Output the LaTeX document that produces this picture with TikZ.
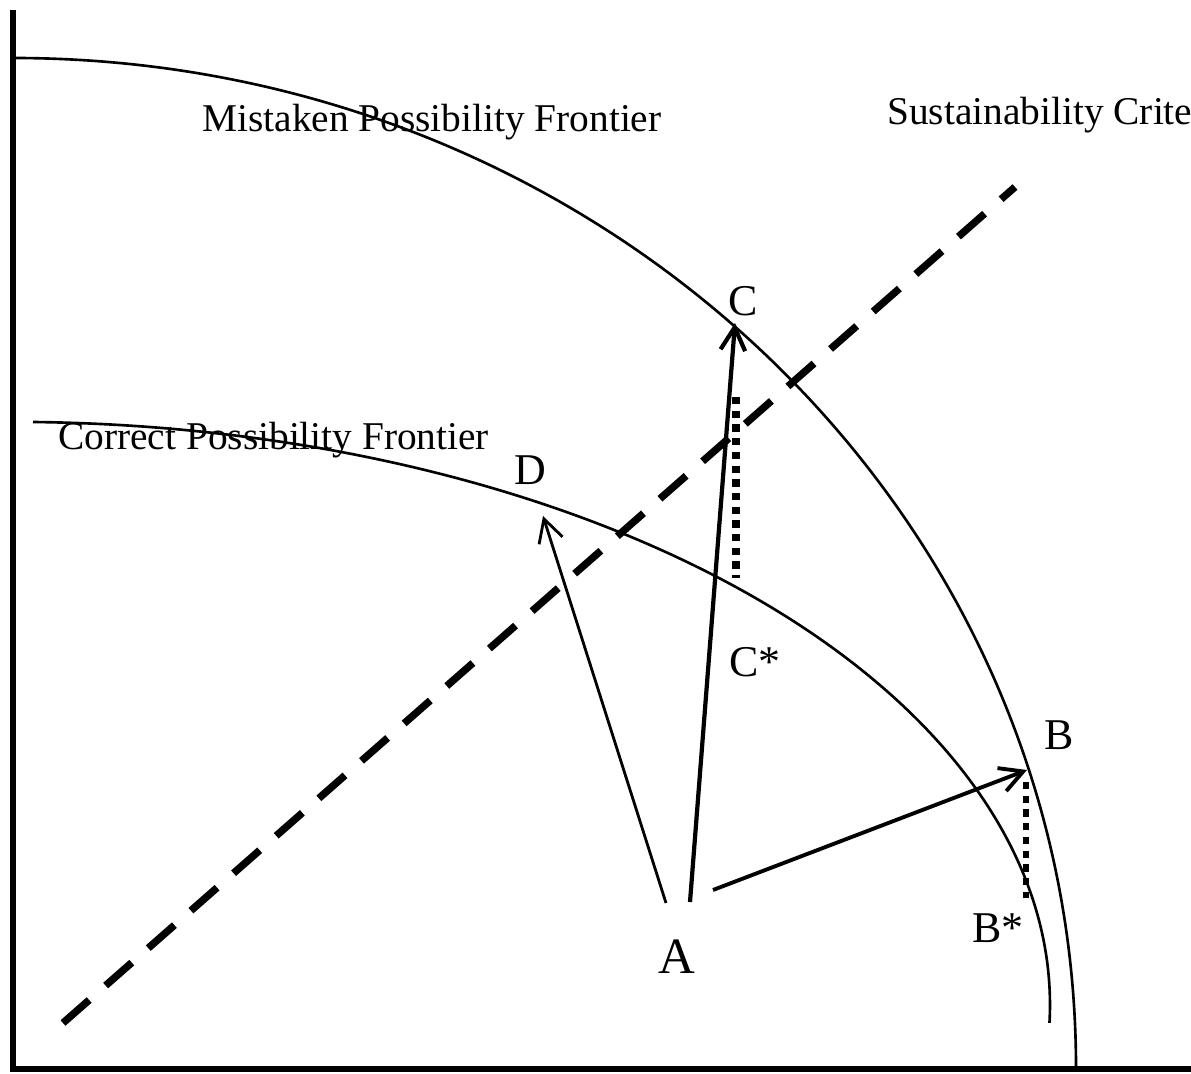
\documentclass[tikz,border=0pt]{standalone}
\usepackage{fontspec}
\setmainfont{Liberation Serif}
\usetikzlibrary{arrows.meta}
\begin{document}
\begin{tikzpicture}[x=0.02cm,y=0.02cm,
  axisline/.style={line width=3.4pt},
  frontier/.style={line width=1.5pt},
  critline/.style={line width=4.2pt, dash pattern=on 19.8pt off 12.5pt},
  dotline/.style={line width=4pt, dash pattern=on 4.2pt off 3.6pt},
  vec/.style={-{Straight Barb[length=13pt,width=14pt]}},
  ftext/.style={inner sep=0pt, font=\fontsize{22.4}{26}\selectfont},
  ptlabel/.style={inner sep=0pt, font=\fontsize{25}{30}\selectfont}]
\useasboundingbox (0,0) rectangle (1191,1073);
\fill[white] (0,0) rectangle (1191,1073);
% axes
\coordinate (O) at (13,4);
\coordinate (Ytop) at (13,1063);
\coordinate (Xend) at (1191,4);
\draw[axisline] (Ytop) -- (O) -- (Xend);
% frontiers
\draw[frontier] (13,1015) arc[start angle=90, end angle=0, x radius=1063, y radius=1010];
\draw[frontier] (33,651) arc[start angle=88.84, end angle=-1.77, x radius=1038, y radius=583];
% sustainability criterion
\coordinate (S1) at (63,50);
\coordinate (S2) at (1015,886);
\draw[critline] (S1) -- (S2);
% labels
\node[ftext, anchor=base west] (mpf) at (202,941) {Mistaken Possibility Frontier};
\node[ftext, anchor=base west] (cpf) at (58,623) {Correct Possibility Frontier};
\node[ftext, anchor=base west] (sc) at (887,948) {Sustainability Crite};
\node[ptlabel, anchor=base] (C) at (743,757) {C};
\node[ptlabel, anchor=base] (D) at (530,588) {D};
\node[ptlabel, anchor=base] (B) at (1059,323) {B};
\node[ptlabel, anchor=base] (Bs) at (998,131) {B*};
\node[ptlabel, anchor=base] (Cs) at (755,396) {C*};
\node[inner sep=0pt, font=\fontsize{29}{34}\selectfont, anchor=base] (A) at (677,100) {A};
% vectors
\coordinate (Dbase) at (666,170);
\coordinate (Dtip) at (543,557);
\coordinate (Cbase) at (690,171);
\coordinate (Ctip) at (735,750);
\coordinate (Bbase) at (713,183);
\coordinate (Btip) at (1027,303);
\draw[vec, line width=1.6pt] (Dbase) -- (Dtip);
\draw[vec, line width=2.4pt] (Cbase) -- (Ctip);
\draw[vec, line width=2.2pt] (Bbase) -- (Btip);
% dotted drops
\coordinate (Ctop) at (736,676);
\coordinate (Cbot) at (736,495);
\coordinate (Btop) at (1026,291);
\coordinate (Bbot) at (1026,175);
\draw[dotline] (Ctop) -- (Cbot);
\draw[dotline, line width=3.6pt] (Btop) -- (Bbot);
\end{tikzpicture}
\end{document}
